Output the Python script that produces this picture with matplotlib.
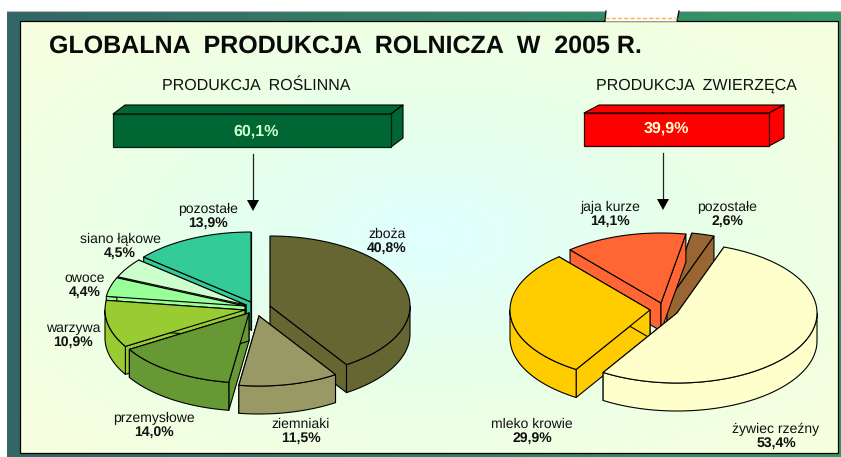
#!/usr/bin/env python3
"""Global agricultural production 2005: two exploded 3D pies on a framed panel."""
import numpy as np
import matplotlib

matplotlib.use("Agg")
import matplotlib.pyplot as plt
from matplotlib.colors import LinearSegmentedColormap
from matplotlib.patches import Polygon, Rectangle

plt.rcParams["font.family"] = ["Liberation Sans", "DejaVu Sans"]
plt.rcParams["text.hinting"] = "none"
plt.rcParams["text.hinting_factor"] = 1

TITLE = "GLOBALNA  PRODUKCJA  ROLNICZA  W  2005 R."

CROP_NAMES = ["zboża", "ziemniaki", "przemysłowe", "warzywa", "owoce", "siano łąkowe", "pozostałe"]
CROP_VALUES = [40.8, 11.5, 14.0, 10.9, 4.4, 4.5, 13.9]
CROP_COLORS = ["#666633", "#999966", "#669933", "#99CC33", "#99FF99", "#CCFFCC", "#33CC99"]

ANIMAL_NAMES = ["żywiec rzeźny", "mleko krowie", "jaja kurze", "pozostałe"]
ANIMAL_VALUES = [53.4, 29.9, 14.1, 2.6]
ANIMAL_COLORS = ["#FFFFCC", "#FFCC00", "#FF6633", "#996633"]

# layout, all in image pixels
W, H = 841, 457
RX, RY, DEPTH = 140, 70, 28
CROP_OFFSETS = [(270, 306), (259, 316), (249, 313), (245, 310), (245, 306), (246, 305), (251, 302)]
ANIMAL_OFFSETS = [(677, 313), (650, 310), (661, 303), (667, 302)]
CROP_LABELS = [(387, 234), (301, 424), (154, 418), (73, 328), (85, 278), (120, 239), (208, 209)]
ANIMAL_LABELS = [(776, 429), (532, 424), (610, 207), (727, 207)]


def rim(cx, cy, t0, t1):
    t = np.radians(np.linspace(t0, t1, max(int(abs(t1 - t0)) * 2, 2)))
    return np.column_stack([cx + RX * np.sin(t), cy - RY * np.cos(t)])


def poly(ax, pts, color, z):
    ax.add_patch(Polygon(pts, closed=True, facecolor=color, edgecolor="black",
                         linewidth=0.8, joinstyle="round", zorder=z))


def draw_wedge(ax, apex, t0, t1, color, z):
    cx, cy = apex
    down = np.array([0, DEPTH])
    top = rim(cx, cy, t0, t1)
    # the two cut faces
    for p in (top[0], top[-1]):
        poly(ax, [apex, p, p + down, np.array(apex) + down], color, z)
    # outer wall, only the part turned to the viewer
    lo, hi = max(t0, 90), min(t1, 270)
    if lo < hi:
        wall = rim(cx, cy, lo, hi)
        poly(ax, np.vstack([wall, (wall + down)[::-1]]), color, z + 0.1)
    poly(ax, np.vstack([[apex], top]), color, z + 0.2)


def draw_pie(ax, values, colors, apexes, start):
    edges = start + np.cumsum([0] + list(values)) * 3.6
    mids = (edges[:-1] + edges[1:]) / 2
    # back wedges first
    order = np.argsort(-np.cos(np.radians(mids)))
    for i, k in enumerate(order):
        draw_wedge(ax, apexes[k], edges[k], edges[k + 1], colors[k], 5 + i)


def draw_labels(ax, names, values, positions):
    for name, val, (x, y) in zip(names, values, positions):
        ax.text(x, y, name, ha="center", va="center", fontsize=10, color="#111111", zorder=30)
        ax.text(x, y + 14.5, f"{val:.1f}%".replace(".", ","), ha="center", va="center",
                fontsize=10, fontweight="bold", color="#111111", zorder=30)


def draw_box(ax, x0, x1, y0, y1, dx, dy, color, edge, label, label_color, label_x, label_y):
    poly(ax, [(x0, y0), (x0 + dx, y0 - dy), (x1 + dx, y0 - dy), (x1, y0)], color, 4)
    poly(ax, [(x1, y0), (x1 + dx, y0 - dy), (x1 + dx, y1 - dy), (x1, y1)], color, 4)
    ax.add_patch(Rectangle((x0, y0), x1 - x0, y1 - y0, facecolor=color, edgecolor=edge,
                           linewidth=0.9, zorder=4))
    ax.text(label_x, label_y, label, ha="center", va="center", fontsize=11.3,
            fontweight="bold", color=label_color, zorder=5)


def draw_arrow(ax, x, y0, y1):
    ax.plot([x, x], [y0, y1 - 8], color="#222222", linewidth=0.9, zorder=4)
    ax.add_patch(Polygon([(x - 6, y1 - 11), (x + 6, y1 - 11), (x, y1)], closed=True,
                         facecolor="black", edgecolor="none", zorder=4))


def main():
    fig = plt.figure(figsize=(W / 100, H / 100), dpi=100)
    ax = fig.add_axes([0, 0, 1, 1])
    ax.axis("off")

    # outer frame, horizontal gradient
    frame = LinearSegmentedColormap.from_list("frame", ["#336666", "#339966"])
    ax.imshow(np.linspace(0, 1, 256).reshape(1, -1), cmap=frame, aspect="auto",
              extent=(7, W, 457, 11), zorder=1)
    ax.plot([7, W], [10.5, 10.5], color="#B8B8B8", linewidth=0.8, zorder=1)

    # inner panel, pale yellow corners to pale cyan centre
    panel = LinearSegmentedColormap.from_list("panel", ["#E0FFFF", "#E8FFE8", "#F6FFDF"])
    yy, xx = np.mgrid[-1:1:200j, -1:1:400j]
    ax.imshow(np.clip(np.hypot(xx, yy) / 1.3, 0, 1), cmap=panel, aspect="auto", vmin=0, vmax=1,
              extent=(20, 838, 453, 21), zorder=2)
    ax.add_patch(Rectangle((20, 21), 818, 432, facecolor="none", edgecolor="black",
                           linewidth=0.9, zorder=3))
    ax.set_xlim(0, W)
    ax.set_ylim(H, 0)

    # notch in the top of the frame
    ax.add_patch(Polygon([(606, 9.5), (679, 9.5), (677, 21.6), (605, 21.6)], closed=True,
                         facecolor="white", edgecolor="none", zorder=3))
    ax.plot([606, 605], [11, 21], color="black", linewidth=0.9, zorder=3)
    ax.plot([679, 677], [11, 21], color="black", linewidth=0.9, zorder=3)
    ax.plot([605, 677], [18, 18], color="#FFB040", linewidth=1, linestyle=(0, (3, 1.5)), zorder=3)

    ax.text(49, 46.5, TITLE, ha="left", va="center", fontsize=17.9, fontweight="bold",
            color="#0A0A0A", zorder=5)
    ax.text(256, 86, "PRODUKCJA  ROŚLINNA", ha="center", va="center", fontsize=11.2,
            color="#111111", zorder=5)
    ax.text(696, 86, "PRODUKCJA  ZWIERZĘCA", ha="center", va="center", fontsize=11.2,
            color="#111111", zorder=5)

    draw_box(ax, 113, 391, 114, 147, 12, 9, "#006633", "#002211", "60,1%", "#CCFFCC", 256, 131)
    draw_box(ax, 584, 769, 113, 146, 15, 8, "#FF0000", "#330000", "39,9%", "#FFFFCC", 666, 128)
    draw_arrow(ax, 253, 154, 211)
    draw_arrow(ax, 663, 153, 210)

    draw_pie(ax, CROP_VALUES, CROP_COLORS, CROP_OFFSETS, 0)
    draw_pie(ax, ANIMAL_VALUES, ANIMAL_COLORS, ANIMAL_OFFSETS, 19.6)
    draw_labels(ax, CROP_NAMES, CROP_VALUES, CROP_LABELS)
    draw_labels(ax, ANIMAL_NAMES, ANIMAL_VALUES, ANIMAL_LABELS)

    fig.savefig("out.png", dpi=100)


if __name__ == "__main__":
    main()
